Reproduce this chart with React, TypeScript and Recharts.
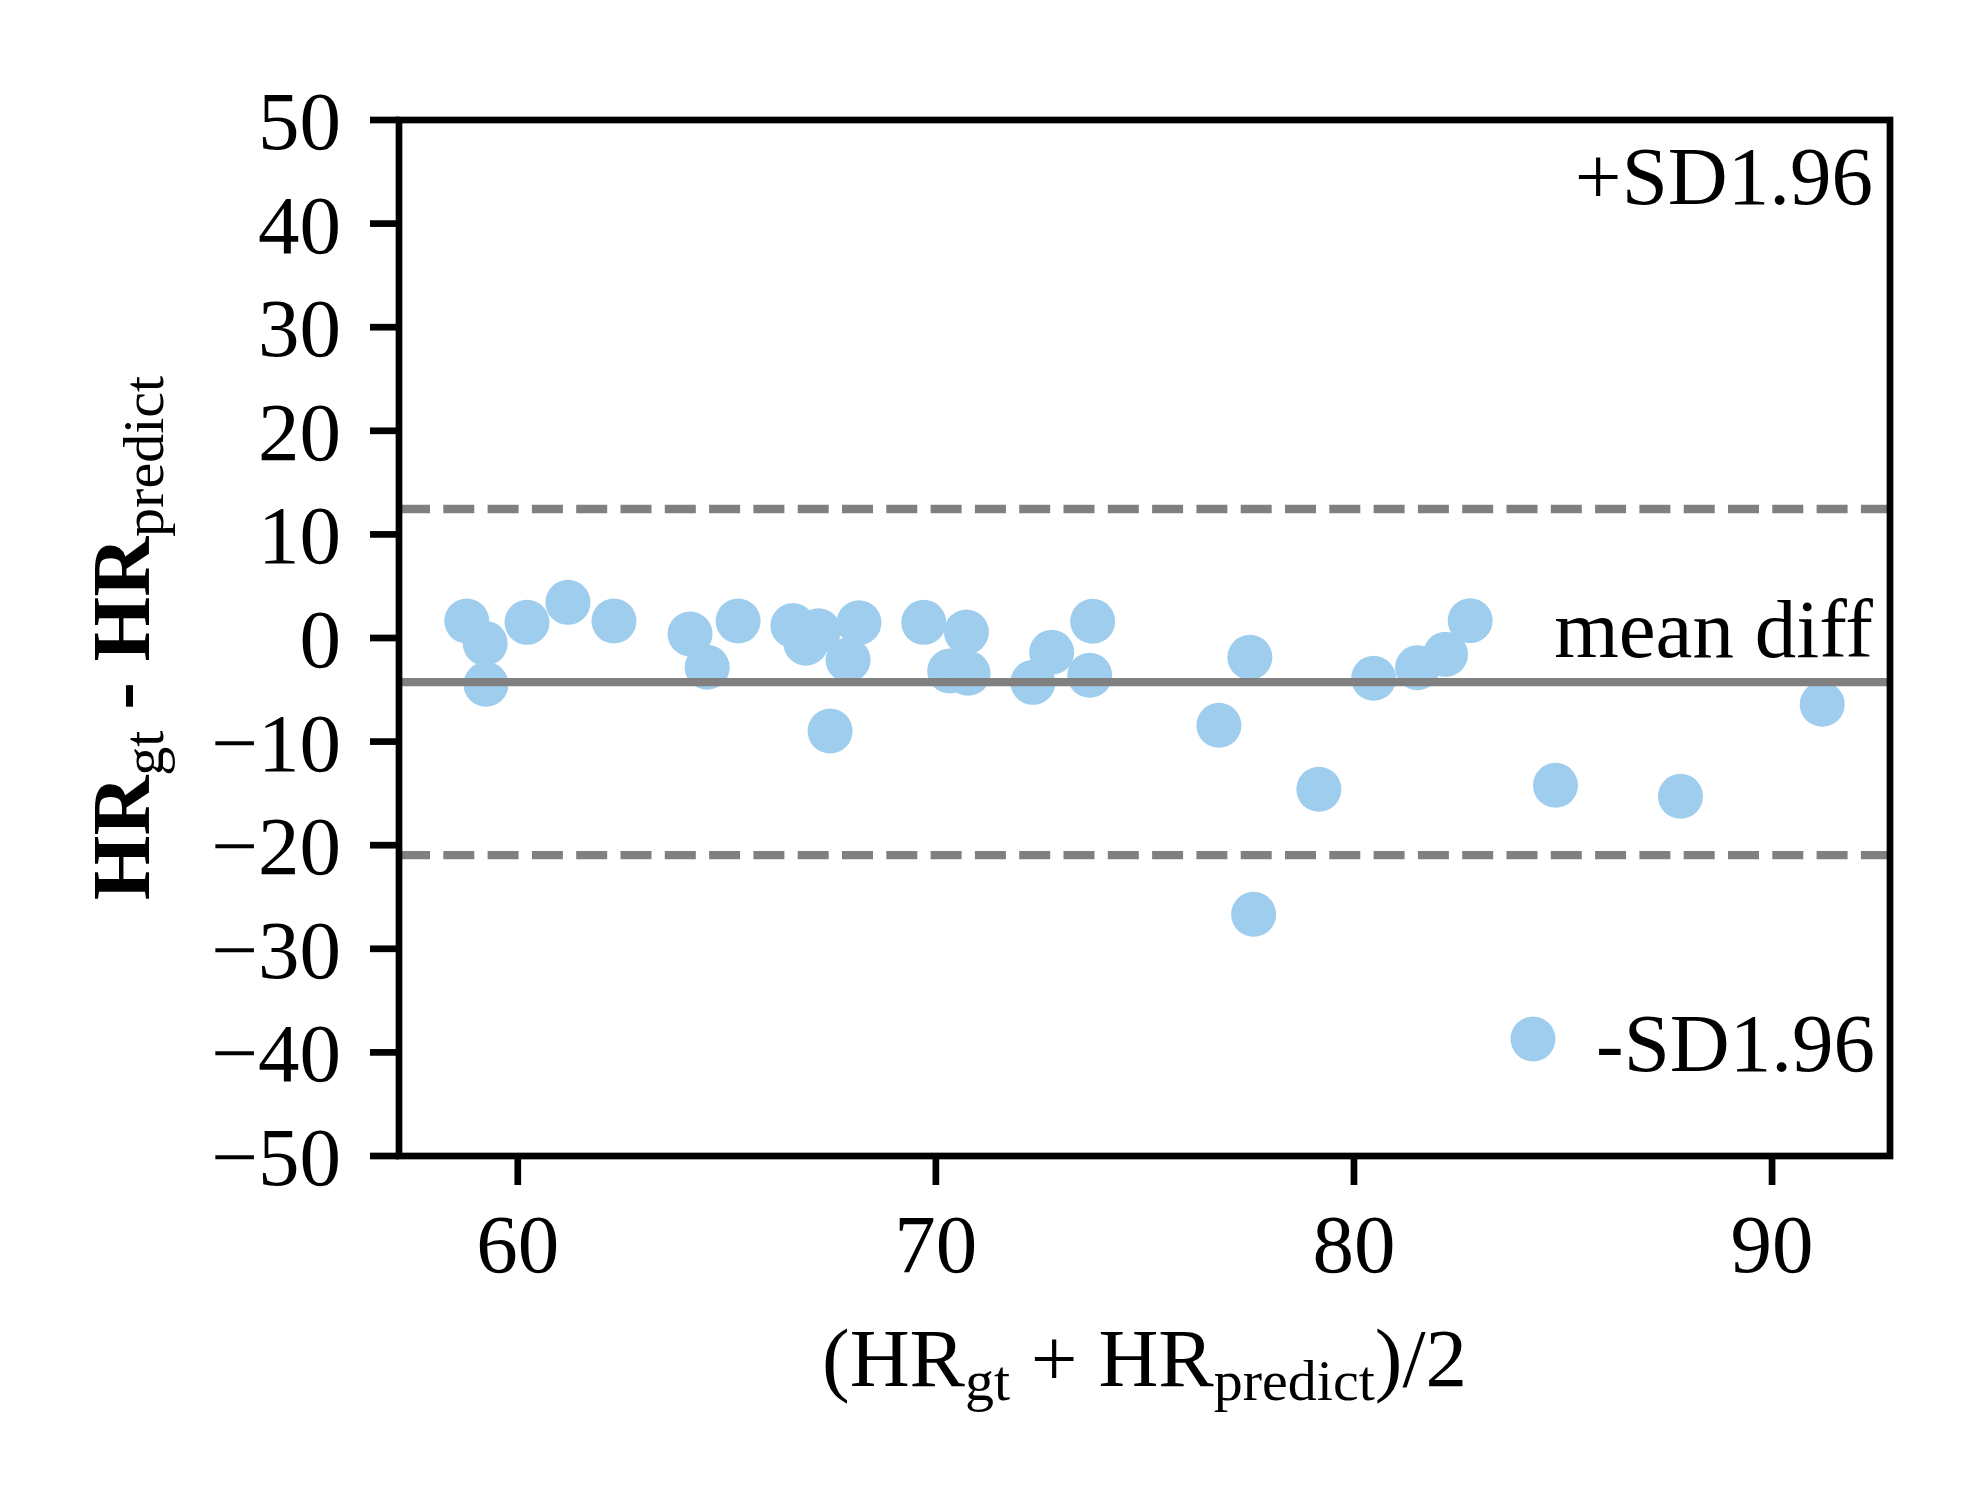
import React from "react";
import { ScatterChart, Scatter, XAxis, YAxis, ReferenceLine } from "recharts";

// ---- data ----
const meanValues: number[] = [
  58.78, 59.22, 59.24, 60.22, 61.2, 62.3, 64.12, 64.53, 65.27, 66.58, 66.89, 67.19,
  67.47, 67.9, 68.16, 69.71, 70.33, 70.73, 70.77, 72.32, 72.77, 73.68, 73.75, 76.77,
  77.51, 77.6, 79.16, 80.47, 81.52, 82.19, 82.78, 84.82, 87.81, 91.2,
];
const diffValues: number[] = [
  1.64, -0.52, -4.47, 1.51, 3.44, 1.64, 0.39, -2.83, 1.64, 1.2, -0.5, 0.7,
  -8.98, -2.12, 1.48, 1.51, -3.19, 0.58, -3.41, -4.28, -1.38, -3.6, 1.61, -8.43,
  -1.87, -26.67, -14.6, -3.89, -2.86, -1.58, 1.67, -14.22, -15.28, -6.4,
];
const meanDiff = -4.25;
const upperLimit = 12.45;
const lowerLimit = -20.95;
const xTicks: number[] = [60, 70, 80, 90];
const yTicks: number[] = [-50, -40, -30, -20, -10, 0, 10, 20, 30, 40, 50];
const yDomain: [number, number] = [-50, 50];

const points = meanValues.map((x, i) => ({ x, y: diffValues[i] }));
const xMin = Math.min(...meanValues);
const xMax = Math.max(...meanValues);
const xPad = (xMax - xMin) * 0.05;
const xDomain: [number, number] = [xMin - xPad, xMax + xPad];

// ---- styling ----
const FONT = "'Liberation Serif', 'Times New Roman', serif";
const FS = 83;
const SUB = 58;
const DOT = "#9fcdee";
const GRAY = "#808080";
const W = 1980;
const H = 1500;
const PLOT = { left: 399, top: 120, right: 1890, bottom: 1156 };

const fmt = (v: number) => (v < 0 ? "\u2212" + Math.abs(v) : String(v));

const XTick = (props: any) => {
  const { x, y, payload } = props;
  return (
    <text x={x} y={y} dy={58} textAnchor="middle" fontFamily={FONT} fontSize={FS} fill="#000">
      {fmt(payload.value)}
    </text>
  );
};

const YTick = (props: any) => {
  const { x, y, payload } = props;
  return (
    <text x={x} y={y} dy={29} textAnchor="end" fontFamily={FONT} fontSize={FS} fill="#000">
      {fmt(payload.value)}
    </text>
  );
};

const Dot = (props: any) => {
  const { cx, cy } = props;
  if (cx == null || cy == null) return null;
  return <circle cx={cx} cy={cy} r={22.5} fill={DOT} />;
};

export default function App() {
  return (
    <div style={{ position: "absolute", left: 0, top: 0, width: W, height: H, background: "#fff" }}>
      <ScatterChart
        width={W}
        height={H}
        margin={{ top: PLOT.top, right: W - PLOT.right, bottom: H - PLOT.bottom - 60, left: PLOT.left - 80 }}
      >
        <XAxis
          type="number"
          dataKey="x"
          domain={xDomain}
          allowDataOverflow
          ticks={xTicks}
          height={60}
          axisLine={false}
          tickSize={29}
          tickMargin={29}
          tickLine={{ stroke: "#000", strokeWidth: 6.7 }}
          tick={<XTick />}
          interval={0}
        />
        <YAxis
          type="number"
          dataKey="y"
          domain={yDomain}
          allowDataOverflow
          ticks={yTicks}
          width={80}
          axisLine={false}
          tickSize={29}
          tickMargin={29}
          tickLine={{ stroke: "#000", strokeWidth: 6.7 }}
          tick={<YTick />}
          interval={0}
        />
        <Scatter data={points} isAnimationActive={false} shape={<Dot />} />
        <ReferenceLine y={upperLimit} stroke={GRAY} strokeWidth={8.3} strokeDasharray="31 13.3" zIndex={700} />
        <ReferenceLine y={meanDiff} stroke={GRAY} strokeWidth={8.3} zIndex={700} />
        <ReferenceLine y={lowerLimit} stroke={GRAY} strokeWidth={8.3} strokeDasharray="31 13.3" zIndex={700} />
      </ScatterChart>
      <svg
        width={W}
        height={H}
        style={{ position: "absolute", left: 0, top: 0, pointerEvents: "none" }}
      >
        <rect
          x={PLOT.left}
          y={PLOT.top}
          width={PLOT.right - PLOT.left}
          height={PLOT.bottom - PLOT.top}
          fill="none"
          stroke="#000"
          strokeWidth={6.7}
        />
        {/* x label */}
        <text x={(PLOT.left + PLOT.right) / 2} y={1386} textAnchor="middle" fontFamily={FONT} fontSize={FS} fill="#000">
          <tspan>(HR</tspan>
          <tspan fontSize={SUB} dy={14}>gt</tspan>
          <tspan dy={-14}>{" + HR"}</tspan>
          <tspan fontSize={SUB} dy={14}>predict</tspan>
          <tspan dy={-14}>)/2</tspan>
        </text>
        {/* y label */}
        <text
          transform={`translate(149, ${(PLOT.top + PLOT.bottom) / 2}) rotate(-90)`}
          textAnchor="middle"
          fontFamily={FONT}
          fontSize={FS}
          fill="#000"
        >
          <tspan fontWeight="bold">HR</tspan>
          <tspan fontSize={SUB} dy={14}>gt</tspan>
          <tspan dy={-14} fontWeight="bold">{" - HR"}</tspan>
          <tspan fontSize={SUB} dy={14}>predict</tspan>
        </text>
        {/* annotations */}
        <text x={1873} y={204} textAnchor="end" fontFamily={FONT} fontSize={FS} fill="#000">+SD1.96</text>
        <text x={1873} y={657} textAnchor="end" fontFamily={FONT} fontSize={FS} fill="#000">mean diff</text>
        <circle cx={1533} cy={1039} r={22.5} fill={DOT} />
        <text x={1875} y={1071} textAnchor="end" fontFamily={FONT} fontSize={FS} fill="#000">-SD1.96</text>
      </svg>
    </div>
  );
}
